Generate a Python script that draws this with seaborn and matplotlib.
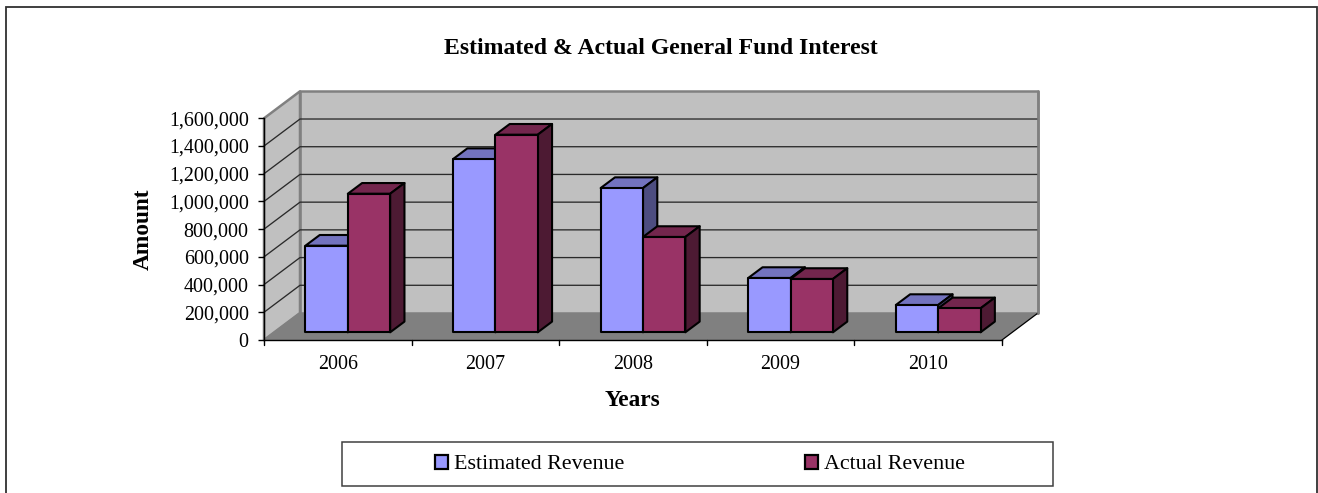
import matplotlib
matplotlib.use("Agg")
import matplotlib.pyplot as plt
import pandas as pd
import seaborn as sns
from matplotlib.patches import Polygon, Rectangle
from matplotlib.lines import Line2D
from matplotlib.transforms import Affine2D

years = ["2006", "2007", "2008", "2009", "2010"]
estimated = [625000, 1250000, 1041000, 392000, 197000]
actual = [1000000, 1426000, 688000, 385000, 173000]
series_names = ["Estimated Revenue", "Actual Revenue"]
y_ticks = [0, 200000, 400000, 600000, 800000, 1000000, 1200000, 1400000, 1600000]
front_colors = ["#9999FF", "#993366"]
top_colors = ["#7373BF", "#73264D"]
side_colors = ["#4D4D80", "#4D1A33"]

W, H = 1318, 493
sns.set_theme(style="white")
plt.rcParams["font.family"] = ["Liberation Serif", "DejaVu Serif"]
fig = plt.figure(figsize=(W / 100, H / 100), dpi=100, facecolor="white")
L, R, T, B = 264, 1002, 118.3, 340
ax = fig.add_axes([L / W, 1 - B / H, (R - L) / W, (B - T) / H])
ax.patch.set_visible(False)

# Frame around the whole chart (its bottom edge lies outside the picture)
fig.add_artist(Rectangle((6 / W, -5 / H), 1311 / W, (H + 5 - 7) / H, transform=fig.transFigure,
                         fill=False, ec="#303030", lw=1.3))

df = pd.DataFrame({"year": years * 2,
                   "amount": estimated + actual,
                   "series": [series_names[0]] * 5 + [series_names[1]] * 5})
sns.barplot(data=df, x="year", y="amount", hue="series", hue_order=series_names,
            palette=front_colors, width=0.574, gap=0, legend=False, ax=ax, errorbar=None,
            edgecolor="black", linewidth=1.5, saturation=1)
ax.set_xlim(-0.5, 4.5)
ax.set_ylim(0, 1600000)

# 3D offsets, in pixels
bar_tr = ax.transData + Affine2D().translate(10, 7.7)
DX, DY = 14.3, 10.7
ax_w = (R - L) / 5.0
ax_u = (B - T) / 1600000.0
ddx, ddy = DX / ax_w, DY / ax_u
xa, xb = -0.5, 4.5
ya, yb = 0, 1600000
pad_x, pad_y = 36 / ax_w, 27 / ax_u


def poly(pts, fc, z, tr=ax.transData, ec="none", lw=0):
    ax.add_patch(Polygon(pts, closed=True, fc=fc, ec=ec, lw=lw, zorder=z, transform=tr,
                         clip_on=False, joinstyle="round"))


# Walls and floor
poly([(xa, ya), (xa + pad_x, ya + pad_y), (xb + pad_x, ya + pad_y), (xb, ya)], "#808080", 0.2)
poly([(xa + pad_x, ya + pad_y), (xb + pad_x, ya + pad_y), (xb + pad_x, yb + pad_y), (xa + pad_x, yb + pad_y)],
     "#C0C0C0", 0.1, ec="#808080", lw=1.8)
poly([(xa, ya), (xa + pad_x, ya + pad_y), (xa + pad_x, yb + pad_y), (xa, yb)], "#C0C0C0", 0.1, ec="#808080", lw=1.8)
ax.add_line(Line2D([xb, xb + pad_x], [ya, ya + pad_y], color="#000000", lw=0.9, zorder=0.3, clip_on=False))
ax.add_line(Line2D([xb + pad_x, xb + pad_x], [ya + pad_y, yb + pad_y], color="#808080", lw=1.8, zorder=0.3, clip_on=False))
for v in y_ticks[1:-1]:
    ax.add_line(Line2D([xa, xa + pad_x, xb + pad_x], [v, v + pad_y, v + pad_y], color="#2a2a2a", lw=0.95,
                       zorder=0.25, clip_on=False))
ax.add_line(Line2D([xa, xa + pad_x], [ya, ya + pad_y], color="#808080", lw=1, zorder=0.25, clip_on=False))

# Bars: front faces from seaborn, with top and side faces derived from them
for s, container in enumerate(ax.containers):
    for i, bar in enumerate(container):
        x0, x1, h = bar.get_x(), bar.get_x() + bar.get_width(), bar.get_height()
        z = 1 + i + s * 0.5
        bar.set_transform(bar_tr)
        bar.set_zorder(z + 0.1)
        bar.set_clip_on(False)
        bar.set_joinstyle("round")
        poly([(x0, h), (x0 + ddx, h + ddy), (x1 + ddx, h + ddy), (x1, h)], top_colors[s], z, bar_tr, "black", 1.5)
        poly([(x1, 0), (x1 + ddx, ddy), (x1 + ddx, h + ddy), (x1, h)], side_colors[s], z, bar_tr, "black", 1.5)

# Axes
for side in ["top", "right"]:
    ax.spines[side].set_visible(False)
for side in ["left", "bottom"]:
    ax.spines[side].set_color("black")
    ax.spines[side].set_linewidth(1)
    ax.spines[side].set_zorder(20)
ax.set_yticks(y_ticks)
ax.set_yticklabels([f"{v:,}" for v in y_ticks])
ax.tick_params(axis="y", left=True, length=4, width=1, color="black", pad=7, labelsize=14.4, labelcolor="black")
ax.tick_params(axis="x", bottom=False, pad=5, labelsize=14.4, labelcolor="black")
for k in range(6):
    ax.add_line(Line2D([k - 0.5, k - 0.5], [0, -5 / ax_u], color="black", lw=1, clip_on=False, zorder=20))
ax.set_xlabel("")
ax.set_ylabel("")
fig.text(660.5 / W, 1 - 49 / H, "Estimated & Actual General Fund Interest", ha="center", va="center",
         fontsize=17.1, fontweight="bold", color="black")
fig.text(632.5 / W, 1 - 401 / H, "Years", ha="center", va="center", fontsize=16.8, fontweight="bold", color="black")
fig.text(143.5 / W, 1 - 229.5 / H, "Amount", ha="center", va="center", rotation=90, fontsize=16.8,
         fontweight="bold", color="black")

# Legend
fig.add_artist(Rectangle((342 / W, 1 - 486 / H), 711 / W, 44 / H, transform=fig.transFigure,
                         fc="white", ec="#404040", lw=1.1))
handles = [Rectangle((0, 0), 1, 1, fc=c, ec="black", lw=1.6) for c in front_colors]
leg = fig.legend(handles, series_names, ncol=2, loc="center", bbox_to_anchor=(700 / W, 1 - 464.5 / H),
                 frameon=False, fontsize=15.8, handlelength=0.63, handleheight=0.64, handletextpad=0.27,
                 columnspacing=8.2, labelcolor="black")

fig.savefig("out.png", dpi=100, facecolor="white")
